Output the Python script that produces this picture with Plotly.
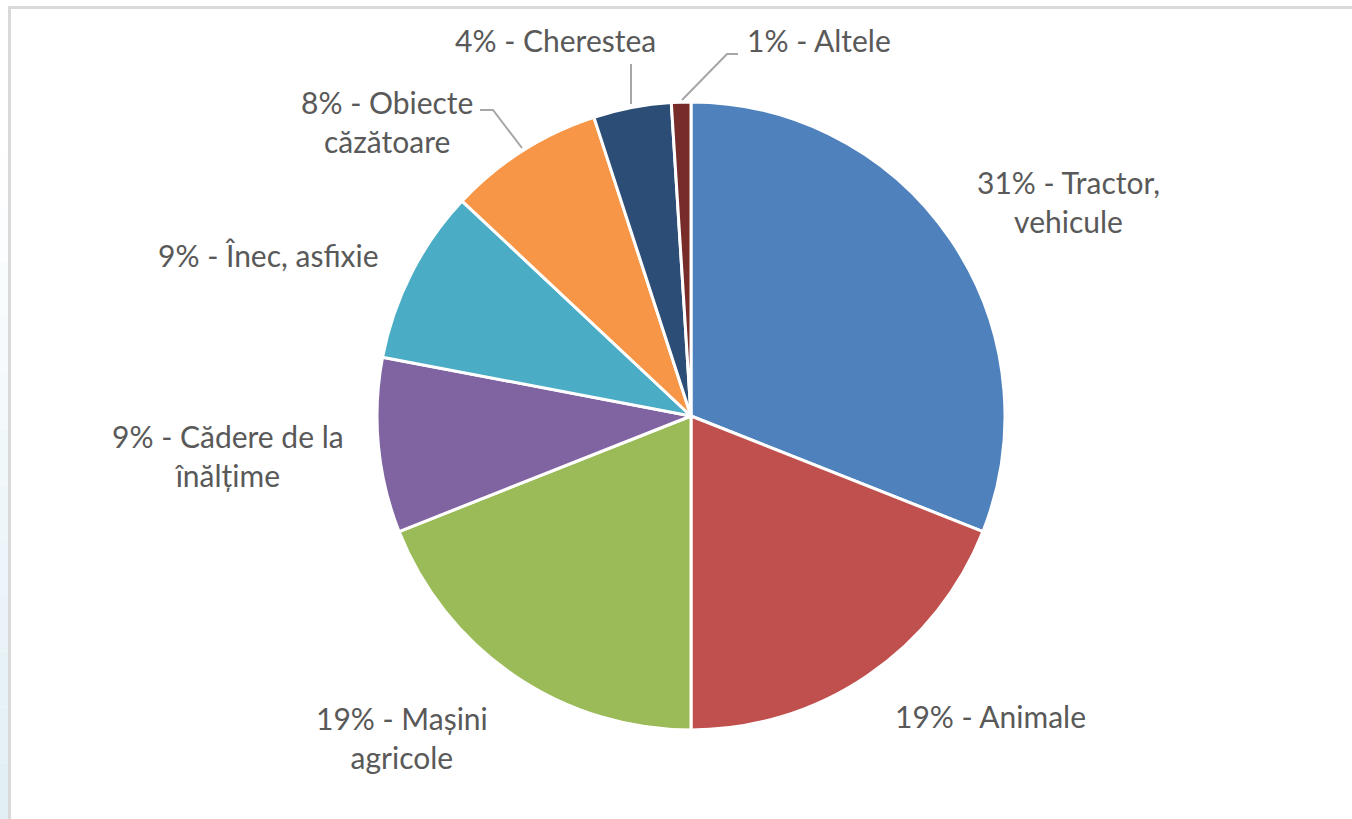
import plotly.graph_objects as go

W, H = 1352, 819

categories = ["Tractor, vehicule", "Animale", "Mașini agricole", "Cădere de la înălțime",
              "Înec, asfixie", "Obiecte căzătoare", "Cherestea", "Altele"]
values = [31, 19, 19, 9, 9, 8, 4, 1]
label_texts = ["31% - Tractor,<br>vehicule", "19% - Animale", "19% - Mașini<br>agricole",
               "9% - Cădere de la<br>înălțime", "9% - Înec, asfixie", "8% - Obiecte<br>căzătoare",
               "4% - Cherestea", "1% - Altele"]
colors = ["#4F81BD", "#C0504D", "#9BBB59", "#8064A2", "#4BACC6", "#F79646", "#2C4D75", "#772C2A"]

# label centres (pixels)
label_pos = [(1068, 201), (990, 716), (402, 737), (228, 455), (268, 255), (387, 121), (555, 40), (819, 40)]


def px(x):
    return x / W


def py(y):
    return 1 - y / H


cx, cy, r = 691, 416, 314

fig = go.Figure(go.Pie(
    labels=categories, values=values, sort=False, direction="clockwise", rotation=0,
    marker=dict(colors=colors, line=dict(color="white", width=3)),
    textinfo="none", showlegend=False, hoverinfo="label+percent",
    domain=dict(x=[px(cx - r), px(cx + r)], y=[py(cy + r), py(cy - r)]),
))

annotations = []
for t, (x, y) in zip(label_texts, label_pos):
    annotations.append(dict(x=px(x), y=py(y), xref="paper", yref="paper", text=t, showarrow=False,
                            xanchor="center", yanchor="middle",
                            font=dict(family="Lato", size=30, color="#595959")))

leaders = [
    [(480, 110), (493, 110), (522, 148)],
    [(631, 64), (631, 104)],
    [(738, 54), (727, 54), (682, 100)],
]
shapes = []
for pts in leaders:
    path = "M " + " L ".join(f"{px(x)},{py(y)}" for x, y in pts)
    shapes.append(dict(type="path", xref="paper", yref="paper", path=path,
                       line=dict(color="#A6A6A6", width=2)))

# frame: pale gradient strip on the left
n = 12
y_start = 150
for i in range(n):
    y0 = y_start + (H - y_start) * i / n
    y1 = y_start + (H - y_start) * (i + 1) / n
    f = (i + 0.5) / n
    rr = round(255 - (255 - 0xE1) * f)
    gg = round(255 - (255 - 0xEF) * f)
    bb = round(255 - (255 - 0xF5) * f)
    shapes.append(dict(type="rect", xref="paper", yref="paper", x0=0, x1=px(8), y0=py(y1), y1=py(y0),
                       fillcolor=f"rgb({rr},{gg},{bb})", line=dict(width=0), layer="below"))
shapes.append(dict(type="rect", xref="paper", yref="paper", x0=px(8), x1=px(11), y0=0, y1=py(6),
                   fillcolor="#D9D9D9", line=dict(width=0), layer="below"))
shapes.append(dict(type="rect", xref="paper", yref="paper", x0=px(8), x1=1, y0=py(9), y1=py(6),
                   fillcolor="#D9D9D9", line=dict(width=0), layer="below"))

fig.update_layout(width=W, height=H, margin=dict(l=0, r=0, t=0, b=0),
                  paper_bgcolor="white", plot_bgcolor="white",
                  annotations=annotations, shapes=shapes)

fig.write_html("out.html", config={"displayModeBar": False},
               post_script="document.body.style.margin='0';document.body.style.overflow='hidden';")
